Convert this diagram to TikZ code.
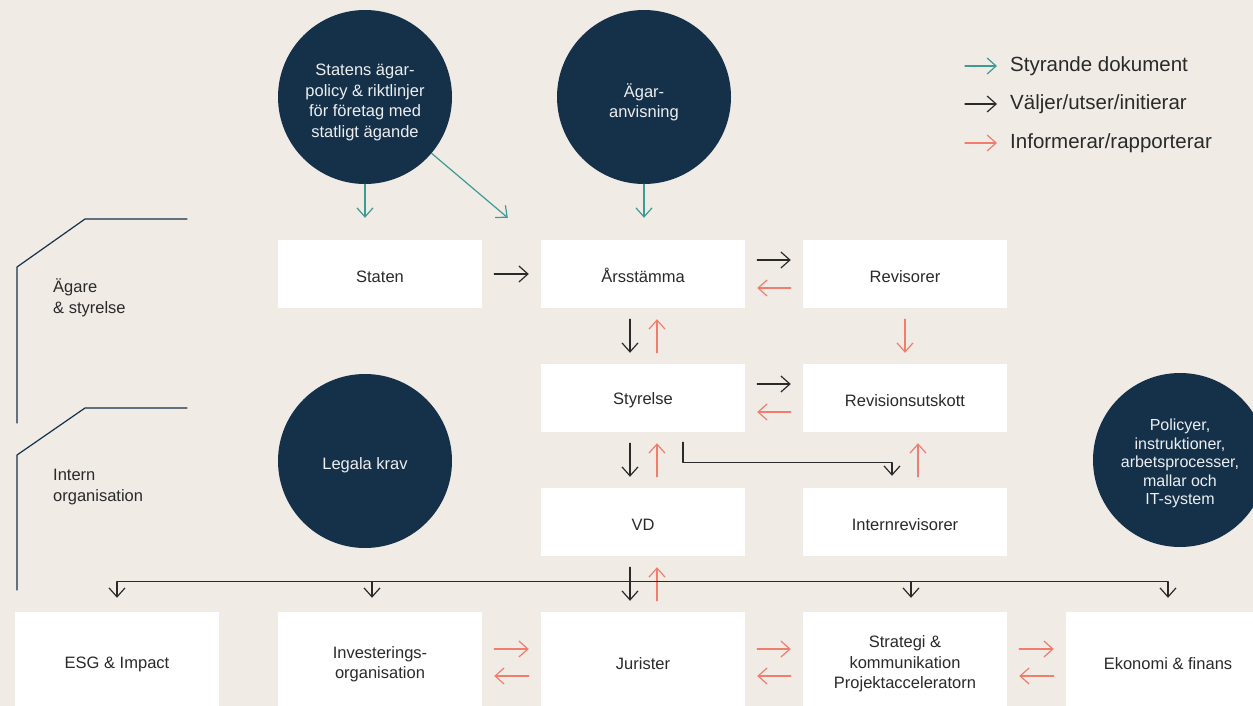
\documentclass[tikz,border=0pt]{standalone}
\usepackage{fontspec}
\setmainfont{Liberation Sans}
\usetikzlibrary{arrows.meta}
\definecolor{bg}{HTML}{F0EBE5}
\definecolor{navy}{HTML}{15314A}
\definecolor{tl}{HTML}{3D9A95}
\definecolor{sal}{HTML}{F07E6E}
\definecolor{ink}{HTML}{2A2A2A}
\newcommand{\lift}[1]{\rule{0pt}{#1pt}}
\begin{document}
\begin{tikzpicture}[x=1pt, y=-1pt, font=\fontsize{16.5}{20.5}\selectfont, line join=round, line cap=round,
		>={Straight Barb[length=9pt,width=16pt]},
		plain/.style={fill=white, minimum width=204pt, inner sep=0pt, align=center, text=ink},
		box/.style={plain, minimum height=68pt, execute at begin node={\lift{17}}},
		lowbox/.style={plain, minimum height=104pt},
		ring/.style={circle, fill=navy, minimum size=174pt, inner sep=0pt, align=center, text=white!92!navy},
		blk/.style={->, ink, line width=1.2pt},
		rep/.style={->, sal, line width=1.2pt},
		doc/.style={->, tl, line width=1.2pt},
		hgap/.style={shorten <=12pt, shorten >=12pt},
		vgap/.style={shorten <=11pt, shorten >=11pt}]
	\fill[bg] (0,0) rectangle (1253,706);
	\useasboundingbox (0,0) rectangle (1253,706);
	\clip (0,0) rectangle (1253,706);
	\foreach \n/\x/\y/\t in {sta/380/274/Staten, ars/643/274/Årsstämma, rev/905/274/Revisorer,
		sty/643/398/Styrelse, rvu/905/398/Revisionsutskott, vd/643/522/VD, int/905/522/Internrevisorer}
	{\node[box] (\n) at (\x,\y) {\t};}
	\foreach \n/\x/\t in {esg/117/ESG \& Impact, inv/380/{Investerings-\\organisation}, jur/643/Jurister,
		str/905/{Strategi \&\\kommunikation\\Projektacceleratorn}, eko/1168/Ekonomi \& finans}
	{\node[lowbox] (\n) at (\x,664) {\t};}
	\node[ring] (sp) at (365,97) {\lift{22}Statens ägar-\\policy \& riktlinjer\\för företag med\\statligt ägande};
	\node[ring] (ag) at (644,97) {\lift{24}Ägar-\\anvisning};
	\node[ring] (lk) at (365,461) {\lift{21}Legala krav};
	\node[ring, font=\fontsize{16}{18.5}\selectfont] (pol) at (1180,460) {\lift{19}Policyer,\\instruktioner,\\arbetsprocesser,\\mallar och\\IT-system};
	% legend
	\node[anchor=west, inner sep=0pt, text=ink, font=\fontsize{20.5}{24}\selectfont] (l1) at (1010,66) {Styrande dokument};
	\node[anchor=west, inner sep=0pt, text=ink, font=\fontsize{20.5}{24}\selectfont] (l2) at (1010,104) {Väljer/utser/initierar};
	\node[anchor=west, inner sep=0pt, text=ink, font=\fontsize{20.5}{24}\selectfont] (l3) at (1010,143) {Informerar/rapporterar};
	\foreach \n/\s in {l1/doc, l2/blk, l3/rep}
	{\draw[\s] ([xshift=-45pt]\n.west) -- ([xshift=-13pt]\n.west);}
	% brackets
	\draw[navy, line width=1.2pt] (187,219) -- (85,219) -- (17,267) -- (17,423)
	(187,408) -- (85,408) -- (17,455) -- (17,590);
	\node[anchor=west, align=left, inner sep=0pt, text=ink] (own) at (53,298) {Ägare\\\& styrelse};
	\node[anchor=west, align=left, inner sep=0pt, text=ink] (org) at (53,487) {Intern\\organisation};
	% styrande dokument
	\draw[doc, shorten >=22pt] (sp.south) -- (sp.south |- sta.north);
	\draw[doc] (sp) -- ([xshift=-33pt,yshift=22pt]ars.north west);
	\draw[doc, shorten >=22pt] (ag.south) -- (ag.south |- ars.north);
	% top rows
	\draw[blk, hgap] (sta) -- (ars);
	\foreach \a/\b in {ars/rev, sty/rvu}
	{\draw[blk, hgap] ([yshift=14pt]\a.east) -- ([yshift=14pt]\b.west);
		\draw[rep, hgap] ([yshift=-14pt]\b.west) -- ([yshift=-14pt]\a.east);}
	\foreach \a/\b in {ars/sty, sty/vd, vd/jur}
	{\draw[blk, vgap] ([xshift=-13pt]\a.south) -- ([xshift=-13pt]\b.north);
		\draw[rep, vgap] ([xshift=14pt]\b.north) -- ([xshift=14pt]\a.south);}
	\draw[rep, vgap] (rev) -- (rvu);
	\draw[rep, vgap] ([xshift=13pt]int.north) -- ([xshift=13pt]rvu.south);
	\draw[blk, shorten >=12pt] ([xshift=40pt,yshift=-10pt]sty.south) -- ++(0,20) -| ([xshift=-13pt]int.north);
	% bottom row
	\draw[ink, line width=1.2pt] ([yshift=30pt]esg.north) -- ([yshift=30pt]eko.north);
	\foreach \n/\s in {esg/0pt, inv/-8pt, str/6pt, eko/0pt}
	{\draw[blk, shorten >=14pt] ([xshift=\s,yshift=30pt]\n.north) -- ([xshift=\s]\n.north);}
	\foreach \a/\b in {inv/jur, jur/str, str/eko}
	{\draw[rep, hgap] ([yshift=15pt]\a.east) -- ([yshift=15pt]\b.west);
		\draw[rep, hgap] ([yshift=-12pt]\b.west) -- ([yshift=-12pt]\a.east);}
\end{tikzpicture}
\end{document}
